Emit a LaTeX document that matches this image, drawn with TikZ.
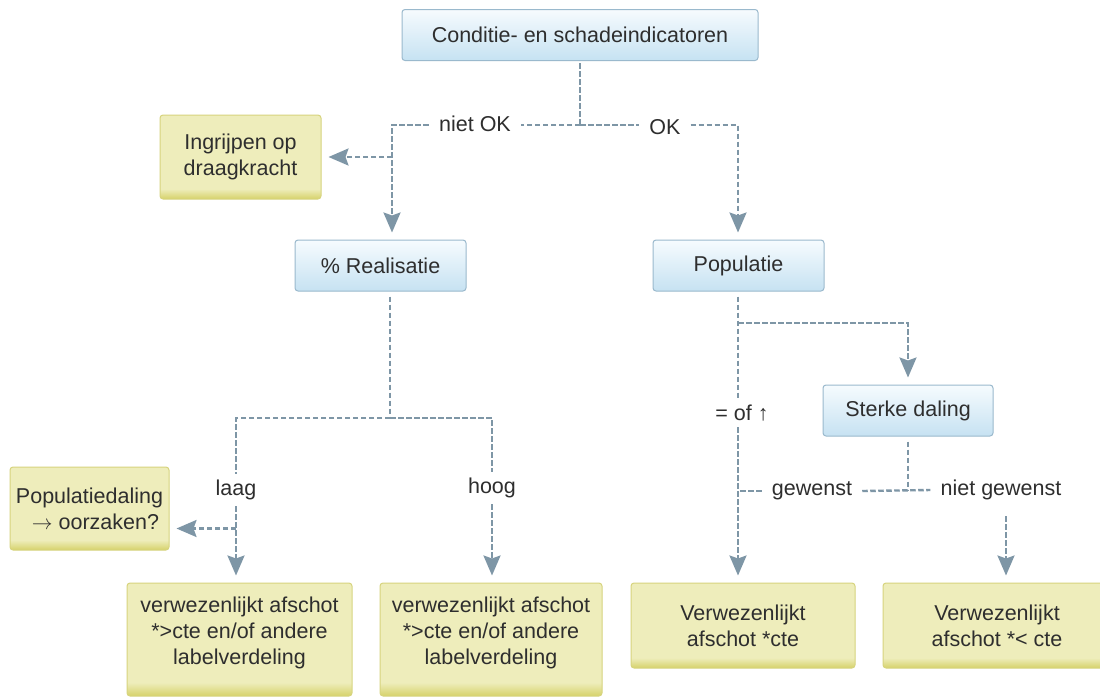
\documentclass[tikz,border=0pt]{standalone}
\usepackage{fontspec}
\setmainfont{Liberation Sans}
\usetikzlibrary{arrows.meta,positioning,calc}
\definecolor{wire}{HTML}{7E96A6}
\definecolor{ink}{HTML}{2E2E2E}
\definecolor{blueedge}{HTML}{9AB9CD}
\definecolor{bluetop}{HTML}{F6FBFE}
\definecolor{bluebot}{HTML}{C6E2F2}
\definecolor{yeledge}{HTML}{D7D47E}
\definecolor{yellight}{HTML}{EEEDBB}
\definecolor{yeldark}{HTML}{D6D26A}
\pgfdeclareverticalshading{yelshade}{100bp}{color(0bp)=(yeldark); color(25bp)=(yeldark); color(31bp)=(yellight); color(100bp)=(yellight)}
\pgfdeclareverticalshading{blueshade}{100bp}{color(0bp)=(bluebot); color(25bp)=(bluebot); color(75bp)=(bluetop); color(100bp)=(bluetop)}

\begin{document}
\begin{tikzpicture}[x=1pt,y=-1pt,font=\fontsize{21.5}{26}\selectfont,text=ink,
  query/.style={draw=blueedge,line width=1pt,rounded corners=3pt,shading=blueshade,
                minimum height=51pt,align=center,inner sep=0pt},
  outcome/.style={draw=yeledge,line width=1pt,rounded corners=3pt,shading=yelshade,
                align=center,inner sep=0pt},
  tag/.style={inner xsep=10pt,inner ysep=6pt},
  conn/.style={wire,line width=2.4pt,dash pattern=on 5.5pt off 2.5pt},
  arr/.style={conn,-{Stealth[length=20pt,width=17pt,inset=3pt]},shorten >=7pt}]
\path[fill=white,use as bounding box] (0,0) rectangle (1100,697);
% boxes
\node[query,minimum width=356pt] (cond) at (580,35) {Conditie- en schadeindicatoren};
\node[outcome,minimum width=161pt,minimum height=84pt] (ingr) at (240.5,157) {Ingrijpen op\\draagkracht};
\node[query,minimum width=171pt] (real) at (380.5,265.5) {\% Realisatie};
\node[query,minimum width=171pt] (pop) at (738.5,265.5) {Populatie};
\node[query,minimum width=170pt] (sterk) at (908,410.5) {Sterke daling};
\node[outcome,minimum width=159pt,minimum height=83pt] (popd) at (89.5,508.5) {Populatiedaling\\\ \ $\rightarrow$ oorzaken?};
\node[outcome,minimum width=225pt,minimum height=113pt] (vlaag) at (239.5,639.5)
   {verwezenlijkt afschot\\*>cte en/of andere\\labelverdeling\\[-8pt]};
\node[outcome,minimum width=222pt,minimum height=113pt] (vhoog) at (491,639.5)
   {verwezenlijkt afschot\\*>cte en/of andere\\labelverdeling\\[-8pt]};
\node[outcome,minimum width=224pt,minimum height=85pt] (vgew) at (743,625.5) {Verwezenlijkt\\afschot *cte};
\node[outcome,minimum width=228pt,minimum height=85pt] (vniet) at (997,625.5) {Verwezenlijkt\\afschot *< cte};
% branch labels
\node[tag] (nietok) at (475,124) {niet OK};
\node[tag] (ok) at (665,127) {OK};
\node[tag] (laag) at (236,490) {laag};
\node[tag] (hoog) at (492,488) {hoog};
\node[tag] (eqof) at (742,413) {= of ↑};
\node[tag] (gewenst) at (812,491) {gewenst};
\node[tag] (nietgew) at (1001,490) {niet gewenst};
% condition split
\coordinate (csplit) at (cond.south |- 0,125);
\draw[conn,shorten <=2pt] (cond.south) -- (csplit);
\draw[conn] (csplit) -- (nietok.east |- csplit);
\draw[conn] (csplit) -- (ok.west |- csplit);
% niet OK
\coordinate (lturn) at (392,125);
\draw[arr] (nietok.west |- lturn) -- (lturn) -- (lturn |- real.north);
\draw[arr] (lturn |- ingr.east) -- (ingr.east);
% OK
\coordinate (rturn) at (738,125);
\draw[arr] (ok.east |- rturn) -- (rturn) -- (rturn |- pop.north);
% realisatie: laag / hoog
\coordinate (rsplit) at (390,418);
\draw[conn,shorten <=5pt] (rsplit |- real.south) -- (rsplit);
\draw[conn] (rsplit) -| (laag.north);
\draw[conn] (rsplit) -| (hoog.north);
\draw[arr] (laag.south) -- (laag.south |- vlaag.north);
\coordinate (lbranch) at ($(popd.east)+(0,20)$);
\draw[arr] (laag.south |- lbranch) -- (lbranch);
\draw[arr] (hoog.south) -- (hoog.south |- vhoog.north);
% populatie
\coordinate (psplit) at (738,323);
\draw[conn,shorten <=5pt] (psplit |- pop.south) -- (psplit |- eqof.north);
\draw[arr] (psplit) -| (sterk.north);
\draw[arr] (psplit |- eqof.south) -- (psplit |- vgew.north);
% sterke daling: gewenst / niet gewenst
\coordinate (ssplit) at (sterk.south |- gewenst);
\draw[conn,shorten <=5pt] (sterk.south) -- (ssplit);
\draw[conn] (gewenst.east) -- (nietgew.west);
\draw[conn] (gewenst.west) -- (gewenst.west -| psplit);
\draw[arr,shorten <=10pt] ($(nietgew.south)+(5,0)$) -- ($(nietgew.south |- vniet.north)+(5,0)$);
\end{tikzpicture}
\end{document}
